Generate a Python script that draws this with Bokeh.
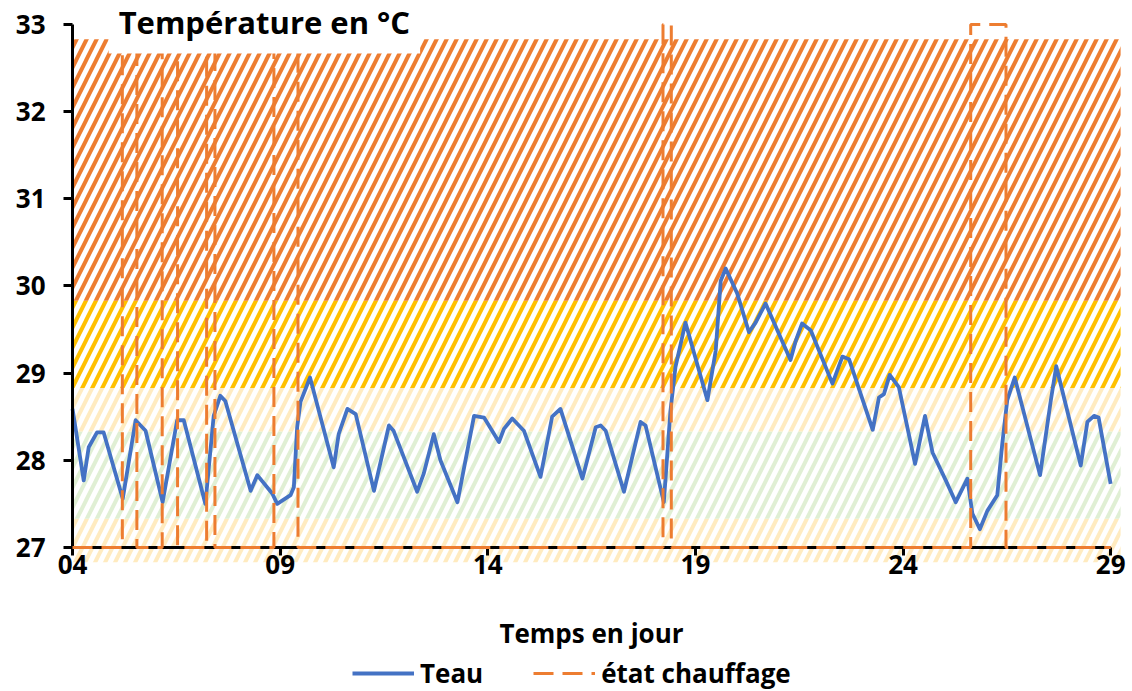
from bokeh.plotting import figure
from bokeh.models import FixedTicker, Label, Legend, LegendItem, Range1d
from bokeh.embed import file_html
from bokeh.resources import INLINE

# ---- data -------------------------------------------------------------
jours = [4.00, 4.27, 4.39, 4.59, 4.75, 5.21, 5.52, 5.76, 6.17, 6.52, 6.68, 7.20, 7.40, 7.56,
         7.68, 8.29, 8.45, 8.81, 8.93, 9.25, 9.33, 9.41, 9.49, 9.72, 10.29, 10.41, 10.62,
         10.82, 11.26, 11.62, 11.73, 12.30, 12.46, 12.70, 12.86, 13.27, 13.67, 13.91, 14.27,
         14.39, 14.59, 14.87, 15.27, 15.55, 15.75, 16.28, 16.60, 16.72, 16.84, 17.28, 17.68,
         17.80, 18.24, 18.40, 18.52, 18.76, 19.29, 19.49, 19.61, 19.73, 20.01, 20.29, 20.45,
         20.69, 21.29, 21.41, 21.57, 21.78, 22.30, 22.54, 22.70, 23.27, 23.42, 23.54, 23.68,
         23.90, 24.29, 24.53, 24.71, 25.03, 25.27, 25.55, 25.67, 25.85, 26.03, 26.27, 26.39,
         26.51, 26.69, 27.30, 27.56, 27.69, 28.28, 28.44, 28.60, 28.71, 29.00]
teau = [28.59, 27.77, 28.15, 28.32, 28.32, 27.56, 28.46, 28.34, 27.52, 28.46, 28.46, 27.50,
        28.51, 28.74, 28.68, 27.65, 27.83, 27.62, 27.50, 27.60, 27.69, 28.38, 28.67, 28.95,
        27.92, 28.30, 28.59, 28.53, 27.65, 28.40, 28.34, 27.64, 27.85, 28.30, 28.00, 27.52,
        28.51, 28.49, 28.21, 28.36, 28.48, 28.34, 27.81, 28.50, 28.59, 27.79, 28.38, 28.40,
        28.34, 27.64, 28.44, 28.40, 27.52, 28.57, 29.07, 29.58, 28.69, 29.26, 30.06, 30.20,
        29.91, 29.47, 29.58, 29.80, 29.15, 29.36, 29.57, 29.49, 28.88, 29.19, 29.16, 28.35,
        28.72, 28.76, 28.98, 28.84, 27.96, 28.51, 28.09, 27.77, 27.52, 27.79, 27.39, 27.21,
        27.42, 27.60, 28.19, 28.69, 28.95, 27.83, 28.69, 29.08, 27.94, 28.44, 28.51, 28.49,
        27.73]

chauffage_jours = [4.00, 5.20, 5.55, 6.16, 6.53, 7.23, 7.43, 8.85, 9.43, 18.22, 18.42,
                   25.63, 26.48, 29.00]
chauffage_etat = [0, 1, 0, 1, 0, 1, 0, 1, 0, 1, 0, 1, 0, 0]
etat_off, etat_on = 27, 33  # état chauffage shown on the temperature scale

zone_bas = [26.83, 27.33, 28.33, 28.83, 29.83]
zone_haut = [27.33, 28.33, 28.83, 29.83, 32.83]
zone_couleurs = ["#FFEBC0", "#E0EFD4", "#FFEBC0", "#FFC000", "#ED7D31"]
zone_debut, zone_fin = 4.0, 29.24

x_ticks = [4, 9, 14, 19, 24, 29]
x_labels = ["04", "09", "14", "19", "24", "29"]
y_ticks = [27, 28, 29, 30, 31, 32, 33]

FONT = "Open Sans"

# ---- figure -----------------------------------------------------------
p = figure(frame_width=1128, frame_height=691,
           min_border_left=0, min_border_right=0, min_border_top=0, min_border_bottom=0,
           x_range=Range1d(2.266, 29.43), y_range=Range1d(25.348, 33.275),
           output_backend="svg", toolbar_location=None)
p.outline_line_color = None
p.grid.grid_line_color = None
p.background_fill_color = "white"
p.border_fill_color = "white"

p.quad(left=[zone_debut] * len(zone_bas), right=[zone_fin] * len(zone_bas),
       bottom=zone_bas, top=zone_haut,
       fill_color="white", fill_alpha=0, line_color=None,
       hatch_pattern="/", hatch_color=zone_couleurs, hatch_scale=20, hatch_weight=4)

r_teau = p.line(jours, teau, line_color="#4472C4", line_width=3.8, line_join="round")

etat_temp = [etat_on if e else etat_off for e in chauffage_etat]
r_ch = p.step(chauffage_jours, etat_temp, mode="after", line_color="#ED7D31",
              line_width=3, line_dash="20 9", level="overlay")

# axes (fixed inside the frame so that nothing gets clipped)
p.xaxis.fixed_location = 27
p.yaxis.fixed_location = 4
p.xaxis.bounds = (4, 29)
p.xaxis.ticker = FixedTicker(ticks=x_ticks)
p.xaxis.major_label_overrides = {t: l for t, l in zip(x_ticks, x_labels)}
p.yaxis.bounds = (27, 33)
p.yaxis.ticker = FixedTicker(ticks=y_ticks)
for ax in (p.xaxis, p.yaxis):
    ax.axis_line_color = "black"
    ax.axis_line_width = 3
    ax.major_tick_line_color = "black"
    ax.major_tick_line_width = 3
    ax.major_tick_out = 9
    ax.major_tick_in = 0
    ax.minor_tick_line_color = None
    ax.major_label_text_font = FONT
    ax.major_label_text_font_style = "bold"
    ax.major_label_text_font_size = "26px"
    ax.major_label_text_color = "black"
p.yaxis.major_label_standoff = 18
p.xaxis.major_tick_out = 8
p.xaxis.major_label_standoff = 0
p.xaxis.axis_label = "Temps en jour"
p.xaxis.axis_label_text_font = FONT
p.xaxis.axis_label_text_font_style = "bold"
p.xaxis.axis_label_text_font_size = "26px"
p.xaxis.axis_label_text_color = "black"
p.xaxis.axis_label_standoff = 37

titre = Label(x=4.87, y=32.667, text="Température en °C", text_font=FONT,
              text_font_style="bold", text_font_size="31px", text_color="black",
              text_align="left", text_baseline="bottom",
              background_fill_color="white", padding=10, level="overlay")
p.add_layout(titre)

legend = Legend(items=[LegendItem(label="Teau", renderers=[r_teau]),
                       LegendItem(label="état chauffage", renderers=[r_ch])],
                orientation="horizontal", location=(352, 0),
                glyph_width=62, glyph_height=28, label_standoff=6, spacing=50,
                padding=0, margin=0, border_line_color=None, background_fill_alpha=0,
                label_text_font=FONT, label_text_font_style="bold",
                label_text_font_size="26px", label_text_color="black")
p.add_layout(legend, "center")

open("out.html", "w").write(file_html(p, INLINE))
